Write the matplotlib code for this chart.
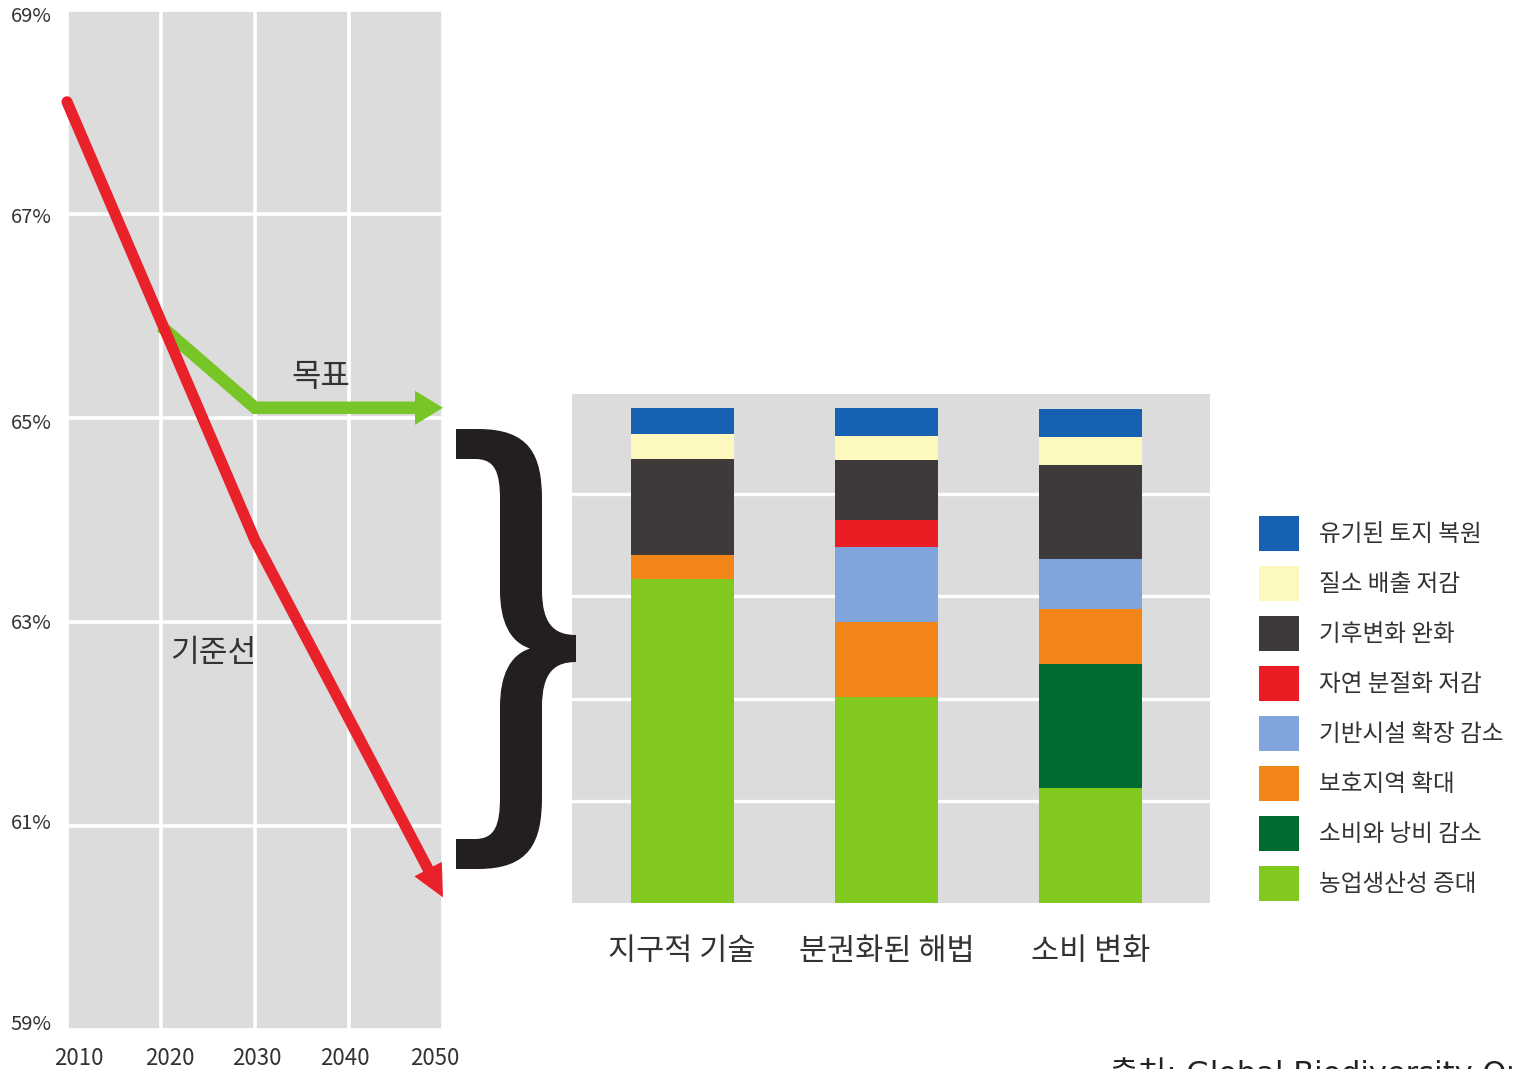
import matplotlib
matplotlib.use('Agg')
import matplotlib.pyplot as plt
import matplotlib.transforms as mtransforms
import numpy as np
from matplotlib.path import Path
from matplotlib.patches import PathPatch, Polygon

plt.rcParams['font.family'] = ['Noto Sans CJK KR', 'DejaVu Sans']

W, H = 1514, 1069

# ---------------- data ----------------
years = [2010, 2020, 2030, 2040, 2050]
ytick_vals = [59, 61, 63, 65, 67, 69]
ytick_labels = ['59%', '61%', '63%', '65%', '67%', '69%']

baseline_years = [2010, 2020, 2030, 2050]
baseline_vals = [68.1, 65.95, 63.8, 60.3]
target_years = [2020, 2030, 2050]
target_vals = [65.9, 65.1, 65.1]

scenarios = ['지구적 기술', '분권화된 해법', '소비 변화']
measures = ['농업생산성 증대', '소비와 낭비 감소', '보호지역 확대', '기반시설 확장 감소',
            '자연 분절화 저감', '기후변화 완화', '질소 배출 저감', '유기된 토지 복원']
agri_productivity = [3.17, 2.02, 1.13]
less_waste = [0.0, 0.0, 1.21]
protected_areas = [0.23, 0.73, 0.54]
less_infrastructure = [0.0, 0.73, 0.49]
less_fragmentation = [0.0, 0.27, 0.0]
climate_mitigation = [0.94, 0.58, 0.92]
nitrogen_reduction = [0.25, 0.24, 0.27]
land_restoration = [0.25, 0.27, 0.27]
series = [agri_productivity, less_waste, protected_areas, less_infrastructure,
          less_fragmentation, climate_mitigation, nitrogen_reduction, land_restoration]
colors = ['#82c91f', '#006b31', '#f28518', '#80a5dc',
          '#ec1c24', '#3e3a39', '#fdf8bd', '#1661b1']

GRAY = '#dcdcdc'
TXT = '#333333'


def px_box(x0, y0, x1, y1):
    return [x0 / W, 1 - y1 / H, (x1 - x0) / W, (y1 - y0) / H]


def nudge(label, dx, dy):
    label.set_transform(label.get_transform() +
                        mtransforms.ScaledTranslation(dx / 100, -dy / 100, fig.dpi_scale_trans))


fig = plt.figure(figsize=(W / 100, H / 100), dpi=100)

# ---------------- left line chart ----------------
ax1 = fig.add_axes(px_box(67, 10, 443, 1030))
ax1.set_facecolor(GRAY)
ax1.set_xlim(2010, 2050)
ax1.set_ylim(59, 69)
for s in ax1.spines.values():
    s.set_visible(False)
ax1.set_xticks(years)
ax1.set_xticklabels([str(y) for y in years], fontsize=16, color=TXT)
ax1.set_yticks(ytick_vals)
ax1.set_yticklabels(ytick_labels, fontsize=14.5, color=TXT)
ax1.tick_params(length=0)
ax1.tick_params(axis='x', pad=12)
ax1.tick_params(axis='y', pad=11)
ax1.grid(True, color='white', linewidth=2.6)
ax1.set_axisbelow(True)

# small nudges of the tick labels, as in the original artwork
for lab, dx in zip(ax1.get_xticklabels(), [12, 9, 2, -4, -8]):
    nudge(lab, dx, 0)
for lab, dy in zip(ax1.get_yticklabels(), [-8, -5, -1, 3, 1, 4]):
    nudge(lab, 0, dy)


def arrow_head(ax, p_from, p_to, color, length_px, width_px):
    t = ax.transData
    a = t.transform(p_from)
    b = t.transform(p_to)
    d = (b - a) / np.linalg.norm(b - a)
    n = np.array([-d[1], d[0]])
    base = b - d * length_px
    tri = np.array([b, base + n * width_px / 2, base - n * width_px / 2])
    tri_data = t.inverted().transform(tri)
    ax.add_patch(Polygon(tri_data, closed=True, facecolor=color, edgecolor='none',
                         zorder=6, clip_on=False))
    return t.inverted().transform(base + d * 1.0)


g_color = '#77c526'
g_base = arrow_head(ax1, (target_years[-2], target_vals[-2]),
                    (target_years[-1], target_vals[-1]), g_color, 28, 34)
ax1.plot(target_years[:-1] + [g_base[0]], target_vals[:-1] + [g_base[1]],
         color=g_color, linewidth=9, solid_capstyle='butt', solid_joinstyle='miter',
         zorder=4, clip_on=False)

r_color = '#e8212a'
r_base = arrow_head(ax1, (baseline_years[-2], baseline_vals[-2]),
                    (baseline_years[-1], baseline_vals[-1]), r_color, 32, 31)
ax1.plot(baseline_years[:-1] + [r_base[0]], baseline_vals[:-1] + [r_base[1]],
         color=r_color, linewidth=8, solid_capstyle='round', solid_joinstyle='round',
         zorder=5, clip_on=False)

ax1.text(2037.0, 65.4, '목표', fontsize=23, color=TXT, ha='center', va='center', zorder=7)
ax1.text(2025.5, 62.7, '기준선', fontsize=22.5, color=TXT, ha='center', va='center', zorder=7)

# ---------------- brace ----------------
brace_px = [
    (Path.MOVETO, (456, 429)),
    (Path.LINETO, (478, 429)),
    (Path.CURVE4, (530, 429)), (Path.CURVE4, (542, 455)), (Path.CURVE4, (542, 500)),
    (Path.LINETO, (542, 590)),
    (Path.CURVE4, (542, 625)), (Path.CURVE4, (555, 635)), (Path.CURVE4, (576, 635)),
    (Path.LINETO, (576, 662)),
    (Path.CURVE4, (555, 662)), (Path.CURVE4, (542, 672)), (Path.CURVE4, (542, 707)),
    (Path.LINETO, (542, 797)),
    (Path.CURVE4, (542, 842)), (Path.CURVE4, (530, 869)), (Path.CURVE4, (478, 869)),
    (Path.LINETO, (456, 869)),
    (Path.LINETO, (456, 839)),
    (Path.LINETO, (475, 839)),
    (Path.CURVE4, (495, 839)), (Path.CURVE4, (500, 825)), (Path.CURVE4, (500, 797)),
    (Path.LINETO, (500, 707)),
    (Path.CURVE4, (500, 675)), (Path.CURVE4, (510, 655)), (Path.CURVE4, (530, 648.5)),
    (Path.CURVE4, (510, 642)), (Path.CURVE4, (500, 622)), (Path.CURVE4, (500, 590)),
    (Path.LINETO, (500, 500)),
    (Path.CURVE4, (500, 472)), (Path.CURVE4, (495, 459)), (Path.CURVE4, (475, 459)),
    (Path.LINETO, (456, 459)),
    (Path.CLOSEPOLY, (456, 429)),
]
codes = [c for c, _ in brace_px]
verts = [(x / W, 1 - y / H) for _, (x, y) in brace_px]
fig.add_artist(PathPatch(Path(verts, codes), facecolor='#231f20', edgecolor='none',
                         transform=fig.transFigure))

# ---------------- right stacked bars ----------------
ax2 = fig.add_axes(px_box(572, 394, 1210, 903))
ax2.set_facecolor(GRAY)
for s in ax2.spines.values():
    s.set_visible(False)
ax2.set_xlim(-0.54, 2.585)
ax2.set_ylim(0, 4.98)
ax2.set_yticks([1, 2, 3, 4])
ax2.set_yticklabels([])
ax2.yaxis.grid(True, color='white', linewidth=2.4)
ax2.set_axisbelow(True)
x = np.arange(len(scenarios))
ax2.set_xticks(x)
ax2.set_xticklabels(scenarios, fontsize=22, color=TXT)
ax2.tick_params(length=0)
ax2.tick_params(axis='x', pad=24)

bottom = np.zeros(len(scenarios))
handles = []
for vals, col, lab in zip(series, colors, measures):
    b = ax2.bar(x, vals, width=0.505, bottom=bottom, color=col, label=lab,
                linewidth=0, zorder=3)
    handles.append(b)
    bottom += np.array(vals)

fig.legend(handles[::-1], measures[::-1], loc='upper left',
           bbox_to_anchor=(1259 / W, 1 - 516 / H), frameon=False, fontsize=17,
           handlelength=1.7, handleheight=1.9, labelspacing=0.64,
           handletextpad=0.85, borderpad=0, borderaxespad=0, labelcolor=TXT)

fig.text(1110 / W, 1 - 1083 / H, '출처: Global Biodiversity Outlook', fontsize=22,
         family=['DejaVu Sans', 'Noto Sans CJK KR'],
         color='#222222', ha='left', va='baseline')

fig.savefig('out.png', dpi=100, facecolor='white')
